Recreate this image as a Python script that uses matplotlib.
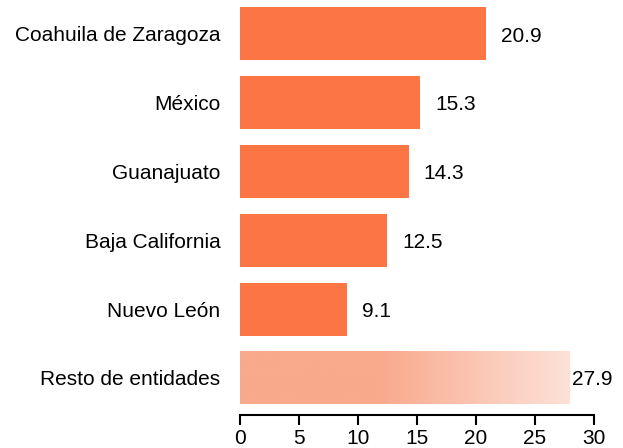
import numpy as np
import matplotlib.pyplot as plt
from matplotlib.colors import LinearSegmentedColormap

plt.rcParams['font.family'] = ['Liberation Sans', 'DejaVu Sans']

estados = ['Coahuila de Zaragoza', 'México', 'Guanajuato', 'Baja California',
           'Nuevo León', 'Resto de entidades']
valores = [20.9, 15.3, 14.3, 12.5, 9.1, 27.9]
ticks = [0, 5, 10, 15, 20, 25, 30]

naranja = '#FC7544'

fig = plt.figure(figsize=(6.23, 4.48), dpi=100)
ax = fig.add_axes([0.385, 0.074, 0.568, 0.926])

pos = np.arange(len(estados))
alto = 0.77
ax.barh(pos[:-1], valores[:-1], height=alto, color=naranja)

# barra con degradado para "Resto de entidades"
cmap = LinearSegmentedColormap.from_list('deg', [(0, '#F9A98C'), (0.42, '#F9A98C'), (1, '#FDE1D7')])
grad = np.linspace(0, 1, 256).reshape(1, -1)
y5 = pos[-1]
ax.imshow(grad, cmap=cmap, aspect='auto',
          extent=[0, valores[-1], y5 + alto / 2, y5 - alto / 2], zorder=2)

for p, v in zip(pos, valores):
    sep = 0.3 if p == pos[-1] else 1.25
    ax.text(v + sep, p + 0.03, f'{v:.1f}', va='center', ha='left', fontsize=15)

ax.set_ylim(5.538, -0.494)
ax.set_xlim(0, 30)
ax.set_yticks(pos)
ax.set_yticklabels(estados, fontsize=15)
ax.set_xticks(ticks)
ax.set_xticklabels([str(t) for t in ticks], fontsize=15)
ax.tick_params(axis='y', length=0, pad=14)
ax.tick_params(axis='x', length=7, width=1.5, direction='out', pad=3)
for s in ['top', 'right', 'left']:
    ax.spines[s].set_visible(False)
ax.spines['bottom'].set_linewidth(1.5)
ax.spines['bottom'].set_bounds(0, 30)

fig.savefig('out.png', dpi=100)
